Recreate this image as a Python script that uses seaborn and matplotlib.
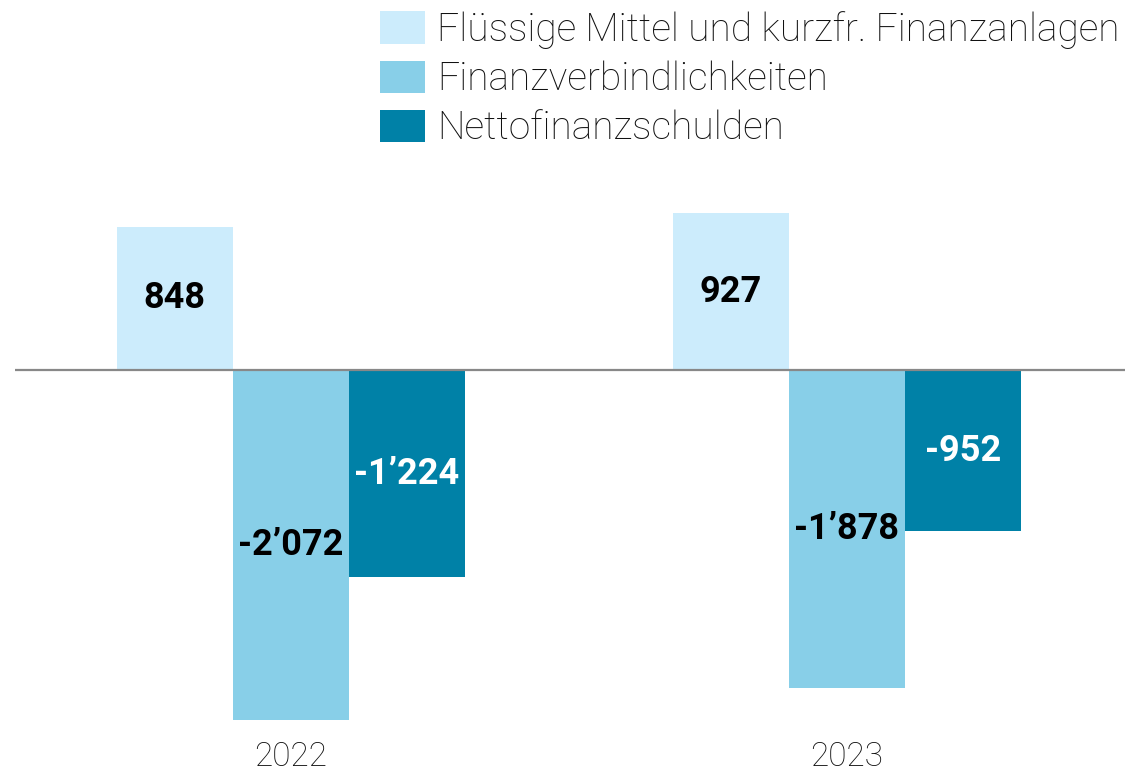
import matplotlib
matplotlib.use("Agg")
import matplotlib.pyplot as plt
import seaborn as sns
import pandas as pd

years = ["2022", "2023"]
series = ["Flüssige Mittel und kurzfr. Finanzanlagen", "Finanzverbindlichkeiten", "Nettofinanzschulden"]
fluessige = [848, 927]
verbindlichkeiten = [-2072, -1878]
netto = [-1224, -952]
colors = ["#CCECFC", "#88CFE8", "#0081A7"]
label_colors = ["black", "black", "white"]

sns.set_theme(style="white")
plt.rcParams["font.family"] = ["Roboto", "DejaVu Sans"]

rows = []
for s, vals in zip(series, [fluessige, verbindlichkeiten, netto]):
    for y, v in zip(years, vals):
        rows.append({"Jahr": y, "Serie": s, "Wert": v})
df = pd.DataFrame(rows)

fig = plt.figure(figsize=(11.3, 7.72), dpi=100)
ax = fig.add_axes([15/1130, 0.0497, 1110/1130, 0.7556])

sns.barplot(data=df, x="Jahr", y="Wert", hue="Serie", hue_order=series, order=years,
            palette=colors, width=0.626, dodge=True, gap=0, saturation=1,
            linewidth=0, edgecolor="none", ax=ax, legend=True)

ax.set_ylim(-2150, 1300)
ax.set_xlim(-0.496, 1.5)
ax.axhline(0, color="#888888", linewidth=1.6, zorder=5)

def fmt(v):
    v = int(round(v))
    s = f"{abs(v):,}".replace(",", "\u2019")
    return ("-" if v < 0 else "") + s

for cont, lc in zip(ax.containers, label_colors):
    labels = [fmt(v) for v in cont.datavalues]
    ax.bar_label(cont, labels=labels, label_type="center", color=lc,
                 fontsize=26, fontweight="bold")

for sp in ax.spines.values():
    sp.set_visible(False)
ax.set_yticks([])
ax.set_xlabel("")
ax.set_ylabel("")
ax.tick_params(axis="x", length=0, pad=5, labelsize=24, labelcolor="#111111")
for t in ax.get_xticklabels():
    t.set_fontweight("light")

handles, labels = ax.get_legend_handles_labels()
ax.legend_.remove()
leg = fig.legend(handles, labels, loc="upper left", bbox_to_anchor=(380/1130, 1 - 11/772),
                 frameon=False, fontsize=28, handlelength=1.16, handleheight=0.9,
                 handletextpad=0.31, labelspacing=0.3, borderpad=0, borderaxespad=0)
for t in leg.get_texts():
    t.set_fontweight("light")
    t.set_color("#111111")

fig.savefig("out.png", dpi=100, facecolor="white")
